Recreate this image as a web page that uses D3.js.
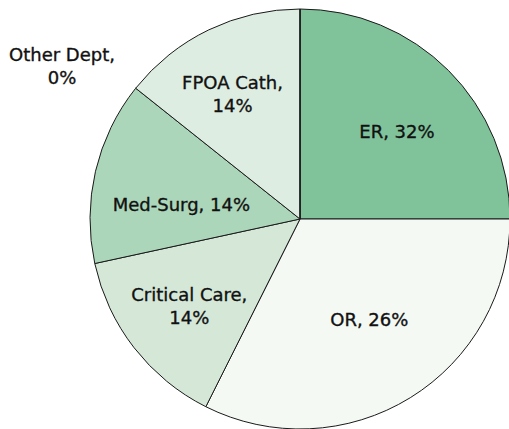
<!DOCTYPE html>
<html>
<head>
<meta charset="utf-8">
<script src="https://cdn.jsdelivr.net/npm/d3@7"></script>
<style>
  html, body { margin: 0; padding: 0; background: #fff; }
  svg { display: block; }
</style>
</head>
<body>
<svg id="chart" width="509" height="429"></svg>
<script>
// slice sizes as drawn (share of the circle, %)
const departments = ['ER', 'OR', 'Critical Care', 'Med-Surg', 'FPOA Cath', 'Other Dept']
const shares = [25, 32.4, 14.2, 14.1, 14.3, 0]
// the percentages printed on the labels
const pctLabels = ['32%', '26%', '14%', '14%', '14%', '0%']
// how each label breaks into lines
const breakAfterName = [false, false, true, false, true, true]

const colors = ['#80c39b', '#f4f9f4', '#d5e8d8', '#acd6b9', '#deede1', '#c9e3d0']

const cx = 300
const cy = 219
const r = 210

let svg = d3.select('#chart')
let g = svg.append('g').attr('transform', 'translate(' + cx + ',' + cy + ')')

let pie = d3.pie().sort(null).value(d => d)
let arcs = pie(shares)

let arc = d3.arc().innerRadius(0).outerRadius(r)
let labelArc = d3.arc().innerRadius(130).outerRadius(130)

g.selectAll('path.slice')
    .data(arcs)
  .enter().append('path')
    .attr('class', 'slice')
    .attr('d', arc)
    .attr('fill', (d, i) => colors[i])
    .attr('stroke', '#1a1a1a')
    .attr('stroke-width', 1)
    .attr('stroke-linejoin', 'round')

// small nudges so labels sit where the original placed them
const nudge = [[5, 5], [1, -10], [-8, 8], [8, 16], [-11, -7], [-238, -23]]
const lineH = 23

let labels = g.selectAll('text.lbl')
    .data(arcs)
  .enter().append('text')
    .attr('class', 'lbl')
    .attr('text-anchor', 'middle')
    .attr('font-family', '"DejaVu Sans", sans-serif')
    .attr('font-size', 18)
    .attr('fill', '#111')
    .attr('stroke', '#111')
    .attr('stroke-width', 0.35)
    .attr('transform', (d, i) => {
      let c = labelArc.centroid(d)
      return 'translate(' + (c[0] + nudge[i][0]) + ',' + (c[1] + nudge[i][1]) + ')'
    })

labels.each(function (d, i) {
  let lines = breakAfterName[i]
    ? [departments[i] + ',', pctLabels[i]]
    : [departments[i] + ', ' + pctLabels[i]]
  let t = d3.select(this)
  lines.forEach((ln, j) => {
    t.append('tspan')
      .attr('x', 0)
      .attr('y', (j - (lines.length - 1) / 2) * lineH + 6)
      .text(ln)
  })
})
</script>
</body>
</html>
